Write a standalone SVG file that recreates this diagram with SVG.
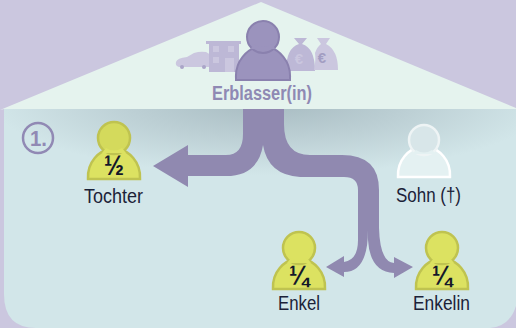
<svg xmlns="http://www.w3.org/2000/svg" width="516" height="328" viewBox="0 0 516 328">
<style>
.t{font-family:"Liberation Sans",Arial,sans-serif;fill:#1b2238;font-size:20px}
.f{font-family:"Liberation Sans",Arial,sans-serif;font-weight:bold;fill:#14182a;font-size:28px}
.y{fill:#dce261;stroke:#bfc350;stroke-width:2.5}
.yh{fill:#d4da5c;stroke:#bfc350;stroke-width:2.5}
.w{fill:#e4f1f2;stroke:#fff;stroke-width:2.5}
.wh{fill:#d8e6e9;stroke:#eef4f5;stroke-width:2.5}
.ic{fill:#cbc7df}
.ic2{fill:#bdb8d6}
.c{fill:#9089b0}
.eu{font-family:"Liberation Sans",sans-serif;font-weight:bold;font-size:15px;text-anchor:middle}
</style>
<defs>
<radialGradient id="shade" gradientUnits="userSpaceOnUse" cx="0" cy="0" r="1" gradientTransform="translate(270 100) scale(280 75)">
<stop offset="0" stop-color="#a6bac0"/><stop offset="0.5" stop-color="#bccfd4"/><stop offset="1" stop-color="#d2e6e9"/>
</radialGradient>
<path id="body" d="M-26 42C-27 24-14 14-5 12L5 12C14 14 27 24 26 42Z"/>
</defs>
<rect width="516" height="328" fill="#cbc7df"/>
<g id="house">
<path d="M4 109H516V306Q510 326 490 328H36Q4 328 4 294Z" fill="#d2e6e9"/>
<path d="M4 109H516V190H4Z" fill="url(#shade)"/>
<path d="M0 110L261 2L516 108V109H4Z" fill="#e5f3ee"/>
</g>
<g id="assets">
<g id="car"><path class="ic" d="M176 62Q177 58 187 57L194 53Q200 51 206 52L211 55V67H179Q175 66 176 62Z"/><circle cx="182" cy="67" r="2" fill="#aaa5c8"/><circle cx="204" cy="67" r="2" fill="#aaa5c8"/></g>
<g id="building"><path class="ic2" d="M206 41H241V44H239V72H209V44H206Z"/><rect class="ic" x="213" y="46" width="6" height="6"/><rect class="ic" x="228" y="46" width="6" height="6"/><rect class="ic" x="213" y="57" width="6" height="6"/><rect class="ic" x="225" y="58" width="9" height="14"/></g>
<g id="bag1"><path class="ic2" d="M294 38H307L302 44Q315 48 315 71H286Q286 48 299 44Z"/><text x="299" y="64" class="eu" fill="#cbc7df">€</text></g>
<g id="bag2"><path class="ic" d="M317 38H330L326 44Q338 50 338 70H314Q316 60 315 53Q317 47 321 44Z"/><text x="322" y="63" class="eu" fill="#a29dc2">€</text></g>
</g>
<g id="connectors">
<path class="c" d="M243 109H284V124Q284 155 310 155H342Q379 155 379 190V228Q380 262 394 263V257L413 267L394 278V273Q370 272 368 240V230Q368 272 344 272V277L326 267L344 256V262Q358 260 358 240V190Q358 177 344 177H300Q268 175 263 145Q258 176 226 176H188V187L153 166L188 145V155H226Q243 155 243 134Z"/>
</g>
<g id="erblasser">
<path d="M-27 42C-28 24-15 14-7 11L7 11C15 14 28 24 27 42V44H-27Z" transform="translate(263 36)" fill="#9b93bd" stroke="#8a81ae" stroke-width="2"/>
<circle cx="263" cy="37" r="16" fill="#9b93bd" stroke="#8a81ae" stroke-width="2"/>
<path d="M253 44Q263 50 273 44L275 49H251Z" fill="#9b93bd"/>
<text x="212" y="100" class="t" textLength="100" lengthAdjust="spacingAndGlyphs" style="font-weight:bold;fill:#8f89b4">Erblasser(in)</text>
</g>
<g id="step">
<circle cx="38" cy="138" r="15" fill="none" stroke="#9189b4" stroke-width="2.5"/>
<text x="30" y="146" font-family="Liberation Sans,sans-serif" font-weight="bold" font-size="22" fill="#9189b4" textLength="17" lengthAdjust="spacingAndGlyphs">1.</text>
</g>
<g id="tochter">
<use href="#body" x="114" y="137" class="y"/>
<circle cx="114" cy="138" r="16" class="yh"/>
<path d="M106 148Q114 153 122 148L126 153H102Z" fill="#dce261"/>
<text x="104" y="175" class="f" textLength="20" lengthAdjust="spacingAndGlyphs">½</text>
<text x="84" y="203" class="t" textLength="59" lengthAdjust="spacingAndGlyphs">Tochter</text>
</g>
<g id="sohn">
<use href="#body" x="424" y="135" class="w"/>
<circle cx="424" cy="140" r="15" class="wh"/>
<path d="M416 150Q424 155 432 150L436 154H412Z" fill="#e4f1f2"/>
<text x="396" y="202" class="t" textLength="65" lengthAdjust="spacingAndGlyphs">Sohn (†)</text>
</g>
<g id="enkel">
<use href="#body" x="299" y="247" class="y"/>
<circle cx="299" cy="248" r="16" class="y"/>
<path d="M291 258Q299 263 307 258L311 263H287Z" fill="#dce261"/>
<text x="289" y="285" class="f" textLength="20" lengthAdjust="spacingAndGlyphs">¼</text>
<text x="278" y="310" class="t" textLength="42" lengthAdjust="spacingAndGlyphs">Enkel</text>
</g>
<g id="enkelin">
<use href="#body" x="442" y="247" class="y"/>
<circle cx="442" cy="248" r="16" class="y"/>
<path d="M434 258Q442 263 450 258L454 263H430Z" fill="#dce261"/>
<text x="432" y="285" class="f" textLength="20" lengthAdjust="spacingAndGlyphs">¼</text>
<text x="413" y="310" class="t" textLength="57" lengthAdjust="spacingAndGlyphs">Enkelin</text>
</g>
</svg>
